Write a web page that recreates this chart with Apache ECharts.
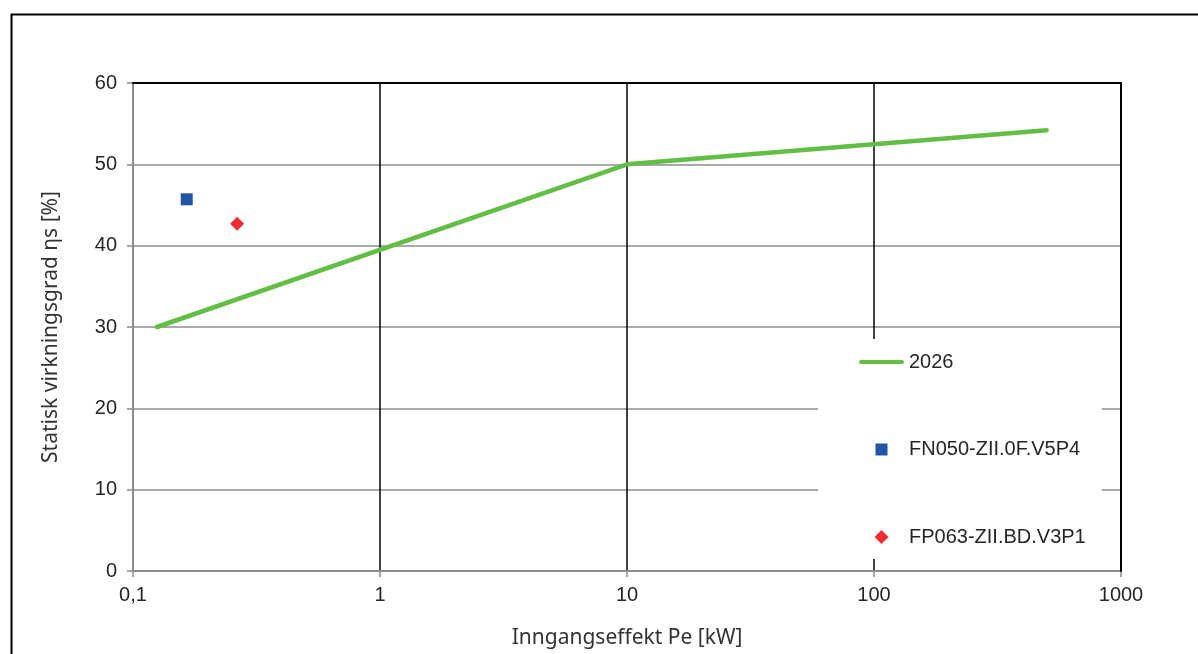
<!DOCTYPE html>
<html>
<head>
<meta charset="utf-8">
<script src="https://cdn.jsdelivr.net/npm/echarts@6/dist/echarts.min.js"></script>
<style>
  html, body { margin: 0; padding: 0; background: #fff; }
  #chart { width: 1198px; height: 654px; }
</style>
</head>
<body>
<div id="chart"></div>
<script>
// Minimum efficiency requirement (2026) as [Pe kW, efficiency %]
const limit2026 = [[0.125, 30], [10, 50], [500, 54.2]];
// Measured fans as [Pe kW, efficiency %]
const fanFN050 = [[0.165, 45.7]];
const fanFP063 = [[0.264, 42.7]];

const seriesNames = ['2026', 'FN050-ZII.0F.V5P4', 'FP063-ZII.BD.V3P1'];
const xAxisTitle = 'Inngangseffekt Pe [kW]';
const yAxisTitle = 'Statisk virkningsgrad ηs [%]';

const labelFont = 'Liberation Sans';
const titleFont = 'Noto Sans';
const textColor = '#262626';
const gridGray = '#8c8c8c';
const green = '#63be46';
const blue = '#1f56a6';
const red = '#ee2e2e';

// legend icons: rounded bar for the line, a 12px square and a 14px diamond
// (square path carries empty move-to points so it sits inside a 14px box)
const lineIcon = 'path://M2,0 H43 A2,2 0 0 1 43,4 H2 A2,2 0 0 1 2,0 Z';
const squareIcon = 'path://M0,0 M1,1 H13 V13 H1 Z M14,14';
const diamondIcon = 'path://M7,0 L14,7 L7,14 L0,7 Z';

const chart = echarts.init(document.getElementById('chart'), null, { renderer: 'canvas' });

chart.setOption({
  animation: false,
  backgroundColor: '#fff',
  graphic: [{
    type: 'rect',
    left: 9, top: 12,
    shape: { width: 1300, height: 800 },
    style: { fill: 'none', stroke: '#000', lineWidth: 2 },
    silent: true
  }],
  grid: { left: 133, right: 77, top: 83, bottom: 82 },
  legend: {
    orient: 'vertical',
    left: 818,
    top: 339,
    padding: [13, 16, 12, 41],
    backgroundColor: '#fff',
    itemWidth: 45,
    itemHeight: 14,
    itemGap: 67.5,
    symbolKeepAspect: true,
    textStyle: { fontFamily: labelFont, fontSize: 20, color: textColor },
    data: [
      { name: seriesNames[0], icon: lineIcon, itemStyle: { color: green } },
      { name: seriesNames[1], icon: squareIcon, itemStyle: { color: blue } },
      { name: seriesNames[2], icon: diamondIcon, itemStyle: { color: red } }
    ]
  },
  xAxis: [{
    type: 'log',
    logBase: 10,
    min: 0.1,
    max: 1000,
    name: xAxisTitle,
    nameLocation: 'middle',
    nameGap: 57,
    nameTextStyle: { fontFamily: titleFont, fontSize: 21, color: '#333' },
    axisLine: { lineStyle: { color: gridGray, width: 2 } },
    axisTick: { show: true, length: 6, lineStyle: { color: gridGray, width: 1.5 } },
    minorTick: { show: false },
    axisLabel: {
      fontFamily: labelFont, fontSize: 20, color: textColor, margin: 14,
      formatter: v => String(v).replace('.', ',')
    },
    splitLine: { show: true, lineStyle: { color: '#000', width: 1.5 } }
  }, {
    type: 'log',
    logBase: 10,
    min: 0.1,
    max: 1000,
    position: 'top',
    z: 5,
    axisLine: { onZero: false, lineStyle: { color: '#000', width: 2 } },
    axisTick: { show: false },
    axisLabel: { show: false },
    splitLine: { show: false }
  }],
  yAxis: [{
    type: 'value',
    min: 0,
    max: 60,
    interval: 10,
    name: yAxisTitle,
    nameLocation: 'middle',
    nameGap: 71,
    nameTextStyle: { fontFamily: titleFont, fontSize: 21, color: '#333' },
    axisLine: { show: true, lineStyle: { color: gridGray, width: 2 } },
    axisTick: { show: true, length: 6, lineStyle: { color: gridGray, width: 1.5 } },
    axisLabel: { fontFamily: labelFont, fontSize: 20, color: textColor, margin: 16 },
    splitLine: { show: true, lineStyle: { color: gridGray, width: 1.5 } }
  }, {
    type: 'value',
    min: 0,
    max: 60,
    interval: 10,
    position: 'right',
    z: 5,
    axisLine: { show: true, onZero: false, lineStyle: { color: '#000', width: 2 } },
    axisTick: { show: false },
    axisLabel: { show: false },
    splitLine: { show: false }
  }],
  series: [{
    name: seriesNames[0],
    type: 'line',
    data: limit2026,
    symbol: 'none',
    showSymbol: false,
    lineStyle: { color: green, width: 4.5, cap: 'round' },
    itemStyle: { color: green },
    z: 3
  }, {
    name: seriesNames[1],
    type: 'scatter',
    data: fanFN050,
    symbol: 'rect',
    symbolSize: 12,
    itemStyle: { color: blue, opacity: 1 },
    z: 3
  }, {
    name: seriesNames[2],
    type: 'scatter',
    data: fanFP063,
    symbol: 'diamond',
    symbolSize: 14,
    itemStyle: { color: red, opacity: 1 },
    z: 3
  }]
});
</script>
</body>
</html>
